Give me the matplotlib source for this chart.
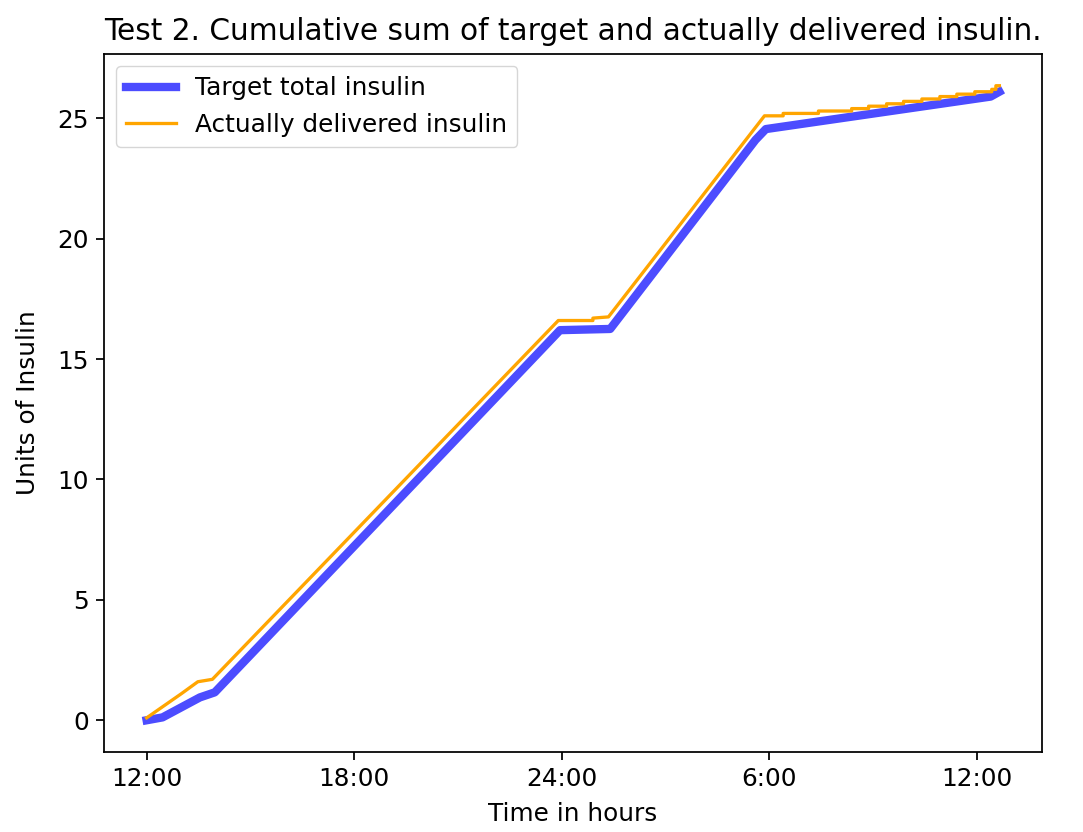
import matplotlib
matplotlib.use("Agg")
import matplotlib.pyplot as plt

# hours since 12:00
target_time = [0.0, 0.46, 1.54, 1.97, 11.95, 13.4, 17.6, 17.9, 24.4, 24.65]
target_units = [0.0, 0.12, 0.95, 1.16, 16.2, 16.25, 24.1, 24.55, 25.9, 26.1]

delivered_time = [0.0, 0.5, 1.0, 1.48, 1.9, 11.9, 12.9, 12.9, 13.35, 17.86,
                  18.4, 18.4, 19.42, 19.42, 20.38, 20.38, 20.87, 20.87,
                  21.39, 21.39, 21.88, 21.88, 22.41, 22.41, 22.93, 22.93,
                  23.42, 23.42, 23.94, 23.94, 24.43, 24.43, 24.55, 24.55, 24.65]
delivered_units = [0.1, 0.6, 1.1, 1.6, 1.7, 16.6, 16.6, 16.7, 16.75, 25.1,
                   25.1, 25.2, 25.2, 25.3, 25.3, 25.4, 25.4, 25.5,
                   25.5, 25.6, 25.6, 25.7, 25.7, 25.8, 25.8, 25.9,
                   25.9, 26.0, 26.0, 26.1, 26.1, 26.2, 26.2, 26.35, 26.35]

tick_pos = [0, 6, 12, 18, 24]
tick_labels = ["12:00", "18:00", "24:00", "6:00", "12:00"]

s = 1.58   # line / tick scale
fs = 1.78  # font scale
plt.rcParams.update({
    "font.size": 10 * fs,
    "axes.linewidth": 0.8 * s,
    "xtick.major.size": 3.5 * s,
    "ytick.major.size": 3.5 * s,
    "xtick.major.width": 0.8 * s,
    "ytick.major.width": 0.8 * s,
    "xtick.major.pad": 3.5 * s,
    "ytick.major.pad": 3.5 * s,
})

fig = plt.figure(figsize=(10.83, 8.32), dpi=100)
ax = fig.add_axes([104 / 1083, 1 - 752 / 832, 938 / 1083, 698 / 832])

ax.plot(target_time, target_units, color="blue", alpha=0.7, lw=3.8 * s,
        label="Target total insulin")
ax.plot(delivered_time, delivered_units, color="orange", lw=1.5 * s,
        label="Actually delivered insulin")

ax.set_xticks(tick_pos)
ax.set_xticklabels(tick_labels)
ax.set_yticks([0, 5, 10, 15, 20, 25])
ax.set_xlabel("Time in hours", labelpad=8)
ax.set_ylabel("Units of Insulin", labelpad=12)
ax.set_title("Test 2. Cumulative sum of target and actually delivered insulin.",
             fontsize=12 * fs, pad=10)
ax.legend(loc="upper left")

fig.savefig("out.png", dpi=100, facecolor="white")
